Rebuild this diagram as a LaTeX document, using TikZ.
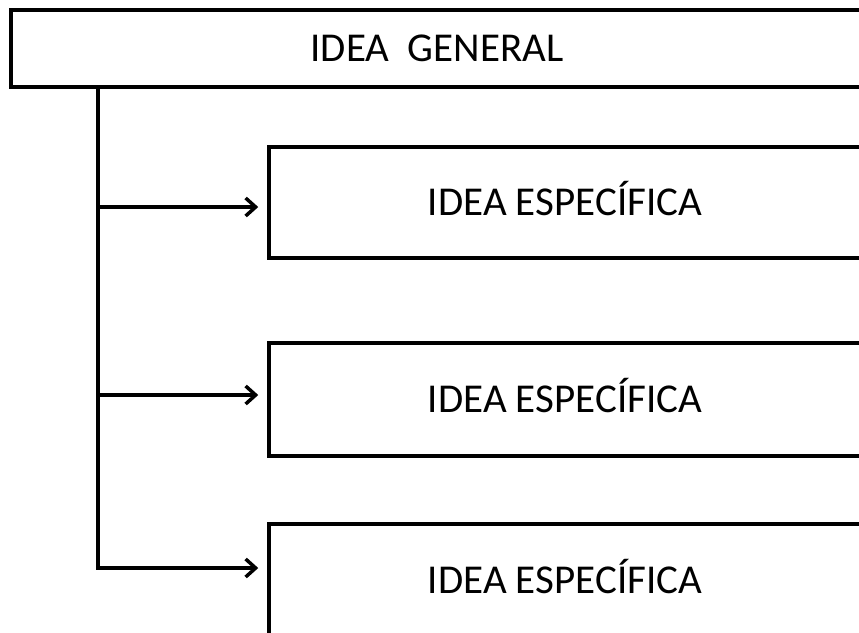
\documentclass[tikz,border=0pt]{standalone}
\usepackage{fontspec}
\setmainfont{Carlito}
\usetikzlibrary{arrows.meta}

\begin{document}
\begin{tikzpicture}[x=1pt,y=-1pt,caja/.style={draw,line width=3.5pt,inner sep=0pt,text height=26pt,text depth=0pt,font=\fontsize{41}{48}\selectfont},flecha/.style={line width=3.5pt,-{Straight Barb[length=10pt,width=18pt]},shorten >=9pt}]
	\useasboundingbox (0,0) rectangle (859,632);
	\node[caja,minimum width=852pt,minimum height=77pt] (general) at (437,48.5) {IDEA\ \ GENERAL};
	\node[caja,minimum width=592pt,minimum height=111pt] (esp1) at (565,202.5) {IDEA ESPECÍFICA};
	\node[caja,minimum width=592pt,minimum height=113pt] (esp2) at (565,399.5) {IDEA ESPECÍFICA};
	\node[caja,minimum width=592pt,minimum height=113pt] (esp3) at (565,580.5) {IDEA ESPECÍFICA};
	\coordinate (r1) at (98,207);
	\coordinate (r2) at (98,395);
	\coordinate (r3) at (98,568);
	\draw[flecha] (general.south -| r1) |- (r3 -| esp3.west);
	\draw[flecha] (r1) -- (r1 -| esp1.west);
	\draw[flecha] (r2) -- (r2 -| esp2.west);
\end{tikzpicture}
\end{document}
